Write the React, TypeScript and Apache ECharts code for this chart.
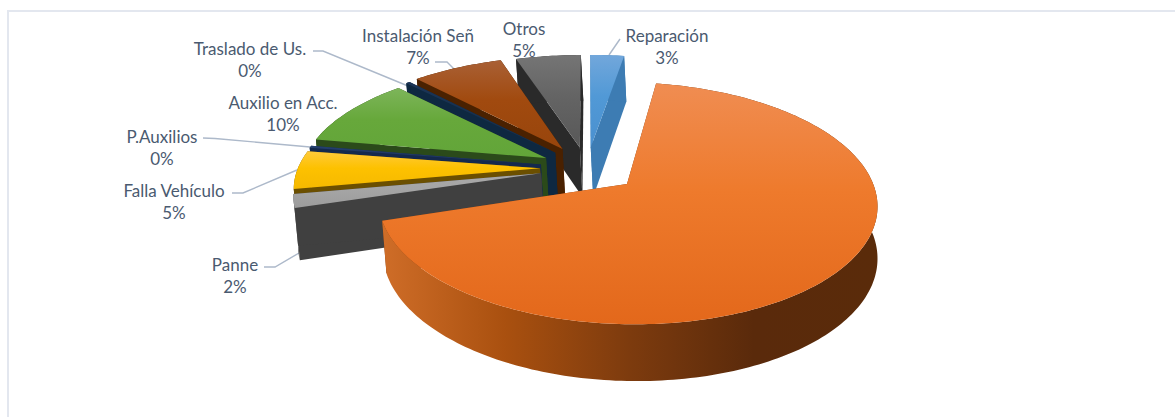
import React, { useEffect, useRef } from "react";
import * as echarts from "echarts";

const categories = ["Reparación", "Remolque", "Panne", "Falla Vehículo", "P.Auxilios", "Auxilio en Acc.", "Traslado de Us.", "Instalación Señ", "Otros"];
const values = [2.6, 67.6, 1.9, 5.4, 0.3, 9.9, 0.3, 7.0, 5.0];
const percentLabels = ["3%", "68%", "2%", "5%", "0%", "10%", "0%", "7%", "5%"];
const drawOrder = [0, 8, 7, 6, 5, 4, 3, 2, 1];
const explode = [0.19, 0.21, 0.19, 0.19, 0.19, 0.19, 0.19, 0.2, 0.19];
const radiusX = [1, 0.975, 0.98, 0.98, 0.98, 0.99, 1, 1, 1];
const radiusY = [1, 1, 0.98, 0.98, 0.98, 0.99, 1, 1, 1];

const topColors = [
  ["#72a7db", "#5199d6", "#4a90cf"],
  ["#f08d52", "#ee7a2c", "#e3681b"],
  ["#a9a9a9", "#a5a5a5", "#9c9c9c"],
  ["#ffca3a", "#fdc100", "#f5b900"],
  ["#24406f", "#1f3864", "#1f3864"],
  ["#7db55a", "#67a83b", "#62a539"],
  ["#1b3558", "#17304f", "#17304f"],
  ["#a96035", "#a14a0f", "#98450c"],
  ["#757575", "#646464", "#585858"],
];
const faceColors = ["#3d7cb3", "#7a3a10", "#404040", "#6b4f00", "#14294d", "#2b4a1a", "#0e2841", "#4a2100", "#2a2a2a"];
const remolqueWall = ["#cf6d28", "#a9500f", "#7d3b0e", "#5a2a0b", "#5a2b0a"];

const labelLayout = [
  [667, 35], [779, 244], [235, 264], [174, 190], [162, 136], [283, 102], [250, 48], [418, 35], [524, 28],
];
const leaders = [
  [[609, 55], [620, 39]],
  [[435, 62], [447, 62], [455, 70]],
  [[313, 51], [323, 51], [408, 86]],
  [[203, 138], [215, 138.5], [310, 147]],
  [[232, 193], [243, 193], [297, 170]],
  [[264, 267], [275, 267], [299, 253]],
];

const cx = 587, cy = 168, R = 247, Vy = 112.8, persp = 0.157, H = 50.5, camX = 877, inset = 0.0086;

function top(X: number, Y: number) {
  const s = 1 / (1 + persp * Y);
  return { x: cx + X * R * s, y: cy - Y * Vy * s, s };
}
function pt(X: number, Y: number) {
  const p = top(X, Y);
  return [p.x, p.y];
}
function low(X: number, Y: number) {
  const p = top(X, Y);
  return [p.x + (camX - p.x) * inset, p.y + H * Math.pow(p.s, 0.6)];
}

const total = values.reduce((a, b) => a + b, 0);
function sliceAngles(i: number) {
  let before = 0;
  for (let k = 0; k < i; k++) before += values[k];
  const a0 = (before / total) * Math.PI * 2;
  const a1 = ((before + values[i]) / total) * Math.PI * 2;
  return [a0, a1];
}
const vGrad = (c: string[]) =>
  new echarts.graphic.LinearGradient(0, 0, 0, 1, [
    { offset: 0, color: c[0] },
    { offset: 0.45, color: c[1] },
    { offset: 1, color: c[2] },
  ]);

function renderSlice(params: any, api: any) {
  const i = api.value(0);
  const [a0, a1] = sliceAngles(i);
  const mid = (a0 + a1) / 2;
  const e = explode[i];
  const ox = e * Math.sin(mid), oy = e * Math.cos(mid);
  const n = Math.max(4, Math.ceil((a1 - a0) / 0.02));
  const arc: number[][] = [];
  for (let k = 0; k <= n; k++) {
    const a = a0 + ((a1 - a0) * k) / n;
    arc.push([ox + radiusX[i] * Math.sin(a), oy + radiusY[i] * Math.cos(a)]);
  }
  const topPts = [pt(ox, oy), ...arc.map((q) => pt(q[0], q[1]))];
  const arcWall = [...arc.map((q) => pt(q[0], q[1])), ...arc.slice().reverse().map((q) => low(q[0], q[1]))];
  const face = (q: number[]) => [pt(ox, oy), pt(q[0], q[1]), low(q[0], q[1]), low(ox, oy)];
  const wallFill =
    i === 1
      ? new echarts.graphic.LinearGradient(0, 0, 1, 0, remolqueWall.map((c, k) => ({ offset: k / (remolqueWall.length - 1), color: c })))
      : faceColors[i];
  const poly = (points: number[][], fill: any) => ({
    type: "polygon",
    shape: { points },
    style: { fill, stroke: "none" },
    silent: true,
  });
  return {
    type: "group",
    children: [
      poly(face(arc[0]), faceColors[i]),
      poly(face(arc[arc.length - 1]), faceColors[i]),
      poly(arcWall, wallFill),
      poly(topPts, vGrad(topColors[i])),
    ],
  };
}

export default function App() {
  const ref = useRef<HTMLDivElement>(null);
  useEffect(() => {
    document.body.style.margin = "0";
    const chart = echarts.init(ref.current!, undefined, { renderer: "svg" });
    const labelEls = categories.map((name, i) => ({
      type: "text",
      x: labelLayout[i][0],
      y: labelLayout[i][1] - 11,
      silent: true,
      style: {
        text: name + "\n" + percentLabels[i],
        fill: "#4a5a70",
        font: '17px Lato',
        lineHeight: 22.5,
        textAlign: "center",
        textVerticalAlign: "top",
      },
    }));
    const leaderEls = leaders.map((points) => ({
      type: "polyline",
      silent: true,
      shape: { points },
      style: { stroke: "#adb9ca", lineWidth: 1.4, fill: "none" },
    }));
    chart.setOption({
      animation: false,
      backgroundColor: "#ffffff",
      graphic: {
        elements: [
          { type: "rect", silent: true, shape: { x: 7, y: 10, width: 1168, height: 2 }, style: { fill: "#e3e7ef" } },
          { type: "rect", silent: true, shape: { x: 7, y: 10, width: 2, height: 407 }, style: { fill: "#e3e7ef" } },
          ...leaderEls,
          ...labelEls,
        ],
      },
      series: [
        {
          type: "custom",
          coordinateSystem: "none",
          renderItem: renderSlice,
          data: drawOrder.map((i) => [i, values[i]]),
          silent: true,
          z: 1,
        },
      ],
    });
    return () => chart.dispose();
  }, []);
  return <div ref={ref} style={{ position: "absolute", left: 0, top: 0, width: 1175, height: 417 }} />;
}
